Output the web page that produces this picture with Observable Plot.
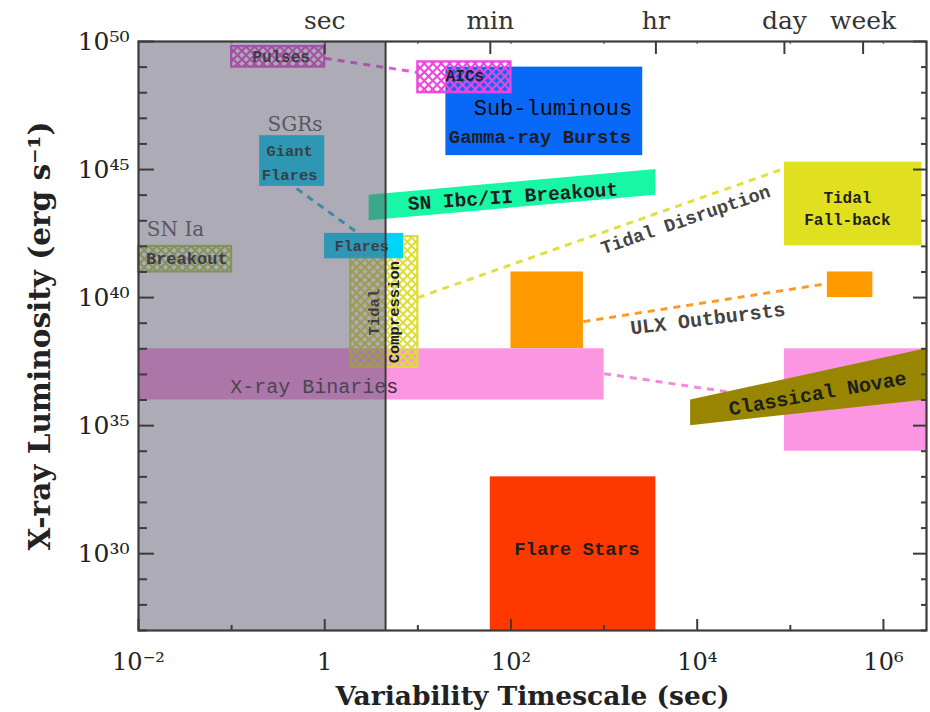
<!DOCTYPE html>
<html>
<head>
<meta charset="utf-8">
<script src="https://cdn.jsdelivr.net/npm/d3@7"></script>
<script src="https://cdn.jsdelivr.net/npm/@observablehq/plot@0.6"></script>
<style>
  html, body { margin: 0; padding: 0; background: #ffffff; }
  #chart { width: 930px; height: 712px; }
</style>
</head>
<body>
<div id="chart"></div>
<script>
// ---------------- data ----------------
const xDomain = [0.01, 2.9e6];      // variability timescale (s)
const yDomain = [1e27, 1e50];       // X-ray luminosity (erg/s)

// rectangular source classes
const rectNames = ["Pulses", "AICs", "Sub-luminous GRBs", "SGR Giant Flares", "SGR Flares",
  "SN Ia Breakout", "Tidal Compression", "Tidal Fall-back", "ULX short", "ULX long",
  "X-ray Binaries short", "X-ray Binaries long", "Flare Stars"];
const rectX1 = [0.1, 10, 20, 0.2, 1, 0.01, 1.9, 86400, 100, 2.5e5, 0.01, 86400, 60];
const rectX2 = [1, 100, 2600, 1, 7, 0.1, 10, 2.6e6, 600, 7.7e5, 1000, 2.9e6, 3600];
const rectY1 = [1e49, 1e48, 3.5e45, 2.2e44, 3.3e41, 1e41, 1.9e37, 1.05e42, 1e38, 1e40, 1e36, 1e34, 1e27];
const rectY2 = [6.3e49, 1.6e49, 1e49, 2.1e46, 3.2e42, 1e42, 2.4e42, 1.95e45, 1e41, 1e41, 1e38, 1e38, 1e33];

// slanted source classes (bands)
const ibcX = [3, 3600];
const ibcLow = [1e43, 1e44];
const ibcHigh = [1e44, 1e45];
const novaeX = [8500, 2.9e6];
const novaeLow = [1e35, 1e36];
const novaeHigh = [1e36, 1e38];

// dashed connectors
const connNames = ["Pulses-AICs", "SGRs", "Tidal Disruption", "ULX Outbursts", "X-ray Binaries"];
const connX1 = [1, 0.5, 10, 600, 1000];
const connY1 = [2.2e49, 1.8e44, 1e40, 1.15e39, 1.07e37];
const connX2 = [10, 2.3, 86400, 2.5e5, 2.1e4];
const connY2 = [6.2e48, 3.2e42, 1.1e45, 3.5e40, 2.1e36];

// shaded (sub-second) region
const shadeX1 = [0.01];
const shadeX2 = [4.5];

// labels
const labelText = ["Pulses", "AICs", "Sub-luminous", "Gamma-ray Bursts", "SGRs", "Giant\nFlares",
  "Flares", "SN Ia", "Breakout", "Tidal\nCompression", "SN Ibc/II Breakout", "Tidal Disruption",
  "Tidal\nFall-back", "ULX Outbursts", "X-ray Binaries", "Classical Novae", "Flare Stars"];
const labelX = [0.34, 32, 282, 205, 0.48, 0.42, 2.5, 0.025, 0.033, 4.2, 105, 7500, 4.1e5, 1.3e4, 0.77, 1.96e5, 510];
const labelY = [2.6e49, 4.5e48, 2.6e47, 1.8e46, 5.8e46, 2.2e45, 1e42, 4.6e42, 3.3e41, 2.7e39, 8.9e43, 1.1e43, 3.5e43, 1.5e39, 3.3e36, 1.8e36, 1.6e30];

// ticks
const xTickValues = [1e-2, 1, 1e2, 1e4, 1e6];
const xTickLabels = ["10⁻²", "1", "10²", "10⁴", "10⁶"];
const xMinorValues = [1e-1, 10, 1e3, 1e5];
const topTickValues = [1, 60, 3600, 86400, 604800];
const topTickLabels = ["sec", "min", "hr", "day", "week"];
const yTickValues = [1e30, 1e35, 1e40, 1e45, 1e50];
const yTickLabels = ["10³⁰", "10³⁵", "10⁴⁰", "10⁴⁵", "10⁵⁰"];
const yMinorValues = [1e27, 1e28, 1e29, 1e31, 1e32, 1e33, 1e34, 1e36, 1e37, 1e38, 1e39,
  1e41, 1e42, 1e43, 1e44, 1e46, 1e47, 1e48, 1e49];

const xTitle = "Variability Timescale (sec)";
const yTitle = "X-ray Luminosity (erg s⁻¹)";

// ---------------- tables ----------------
const rects = rectNames.map((name, i) => ({name, x1: rectX1[i], x2: rectX2[i], y1: rectY1[i], y2: rectY2[i]}));
const ibc = ibcX.map((x, i) => ({x, lo: ibcLow[i], hi: ibcHigh[i]}));
const novae = novaeX.map((x, i) => ({x, lo: novaeLow[i], hi: novaeHigh[i]}));
const conns = connNames.map((name, i) => ({name, x1: connX1[i], y1: connY1[i], x2: connX2[i], y2: connY2[i]}));
const shade = shadeX1.map((x1, i) => ({x1, x2: shadeX2[i]}));
const labels = labelText.map((text, i) => ({text, x: labelX[i], y: labelY[i]}));
const xLab = new Map(xTickValues.map((v, i) => [v, xTickLabels[i]]));
const topLab = new Map(topTickValues.map((v, i) => [v, topTickLabels[i]]));
const yLab = new Map(yTickValues.map((v, i) => [v, yTickLabels[i]]));

// ---------------- layout & styles ----------------
const W = 930, H = 712, MT = 41, MR = 4, MB = 82, ML = 138;
const FW = W - ML - MR, FH = H - MT - MB;   // frame size in px

const solidFill = {
  "Sub-luminous GRBs": "#0868f8",
  "SGR Giant Flares": "#00d4f8",
  "SGR Flares": "#00d4f8",
  "Tidal Fall-back": "#e0e020",
  "ULX short": "#ff9900",
  "ULX long": "#ff9900",
  "X-ray Binaries short": "#fc95e2",
  "X-ray Binaries long": "#fc95e2",
  "Flare Stars": "#ff3800"
};
const hatch = {
  "Pulses": ["url(#hatchPink)", "#ee44dd"],
  "AICs": ["url(#hatchPink)", "#ee44dd"],
  "SN Ia Breakout": ["url(#hatchLime)", "#aacc44"],
  "Tidal Compression": ["url(#hatchYellow)", "#dddd33"]
};
const connColor = {
  "Pulses-AICs": "#ee55dd",
  "SGRs": "#22b8e8",
  "Tidal Disruption": "#e0e040",
  "ULX Outbursts": "#ff9922",
  "X-ray Binaries": "#f888dd"
};
const MONO = "'Liberation Mono', 'DejaVu Sans Mono', monospace";
const SERIF = "'DejaVu Serif', serif";
const labelStyle = {
  "Pulses": {fontFamily: MONO, fontSize: 16, fontWeight: "bold"},
  "AICs": {fontFamily: MONO, fontSize: 16, fontWeight: "bold"},
  "Sub-luminous": {fontFamily: MONO, fontSize: 22, fontWeight: "normal", fill: "#0a0a0a"},
  "Gamma-ray Bursts": {fontFamily: MONO, fontSize: 19, fontWeight: "bold"},
  "SGRs": {fontFamily: SERIF, fontSize: 20, fontWeight: "normal", fill: "#555"},
  "Giant\nFlares": {fontFamily: MONO, fontSize: 15.5, fontWeight: "bold", lineHeight: 1.55},
  "Flares": {fontFamily: MONO, fontSize: 15, fontWeight: "bold"},
  "SN Ia": {fontFamily: SERIF, fontSize: 20, fontWeight: "normal", fill: "#555"},
  "Breakout": {fontFamily: MONO, fontSize: 17, fontWeight: "bold"},
  "Tidal\nCompression": {fontFamily: MONO, fontSize: 15.5, fontWeight: "bold", rotate: -90, lineHeight: 1.25},
  "SN Ibc/II Breakout": {fontFamily: MONO, fontSize: 19.5, fontWeight: "bold", rotate: -4},
  "Tidal Disruption": {fontFamily: MONO, fontSize: 18.5, fontWeight: "bold", rotate: -19, fill: "#444"},
  "Tidal\nFall-back": {fontFamily: MONO, fontSize: 16, fontWeight: "bold", lineHeight: 1.4},
  "ULX Outbursts": {fontFamily: MONO, fontSize: 20, fontWeight: "bold", rotate: -7, fill: "#444"},
  "X-ray Binaries": {fontFamily: MONO, fontSize: 20, fontWeight: "normal", fill: "#333"},
  "Classical Novae": {fontFamily: MONO, fontSize: 20, fontWeight: "bold", rotate: -10},
  "Flare Stars": {fontFamily: MONO, fontSize: 19, fontWeight: "bold"}
};

const AX = "#3c3c3c";

// ---------------- marks ----------------
const marks = [];
// solid boxes
for (const r of rects) {
  if (solidFill[r.name]) {
    marks.push(Plot.rect([r], {x1: "x1", x2: "x2", y1: "y1", y2: "y2", fill: solidFill[r.name]}));
  }
}
// dashed connectors
for (const c of conns) {
  marks.push(Plot.link([c], {x1: "x1", y1: "y1", x2: "x2", y2: "y2",
    stroke: connColor[c.name], strokeWidth: 3, strokeDasharray: "7,6"}));
}
// slanted bands
marks.push(Plot.areaY(ibc, {x: "x", y1: "lo", y2: "hi", fill: "#18f7a5"}));
marks.push(Plot.areaY(novae, {x: "x", y1: "lo", y2: "hi", fill: "#988600"}));
// hatched boxes
for (const r of rects) {
  if (hatch[r.name]) {
    marks.push(Plot.rect([r], {x1: "x1", x2: "x2", y1: "y1", y2: "y2",
      fill: hatch[r.name][0], stroke: hatch[r.name][1], strokeWidth: 2.2}));
  }
}
// Flares box sits on top of tidal compression
marks.push(Plot.rect(rects.filter(r => r.name === "SGR Flares"), {x1: "x1", x2: "x2", y1: "y1", y2: "y2", fill: "#00d4f8"}));
// labels
for (const l of labels) {
  const s = labelStyle[l.text];
  marks.push(Plot.text([l], {x: "x", y: "y", text: "text", fill: s.fill || "#1e1e1e",
    fontFamily: s.fontFamily, fontSize: s.fontSize, fontWeight: s.fontWeight,
    rotate: s.rotate || 0, lineHeight: s.lineHeight || 1, lineAnchor: "middle", textAnchor: "middle"}));
}
// shaded sub-second region + its boundary
marks.push(Plot.rect(shade, {x1: "x1", x2: "x2", fill: "#5b596d", fillOpacity: 0.5}));
marks.push(Plot.ruleX(shadeX2, {stroke: AX, strokeWidth: 2}));

// inward tick marks (rules inset to a few pixels at the frame edge)
const tick = {stroke: AX, strokeWidth: 2};
marks.push(Plot.ruleX(xTickValues, {x: d => d, insetTop: FH - 11, ...tick}));
marks.push(Plot.ruleX(xMinorValues, {x: d => d, insetTop: FH - 5, ...tick}));
marks.push(Plot.ruleX(topTickValues, {x: d => d, insetBottom: FH - 13, ...tick}));
marks.push(Plot.ruleX(xTickValues.concat(xMinorValues), {x: d => d, insetBottom: FH - 3, stroke: "#777", strokeWidth: 1.5}));
marks.push(Plot.ruleY(yTickValues, {y: d => d, insetRight: FW - 16, ...tick}));
marks.push(Plot.ruleY(yMinorValues, {y: d => d, insetRight: FW - 9, ...tick}));
marks.push(Plot.ruleY(yTickValues, {y: d => d, insetLeft: FW - 13, ...tick}));
marks.push(Plot.ruleY(yMinorValues, {y: d => d, insetLeft: FW - 5, ...tick}));

// tick labels
marks.push(Plot.text(xTickValues, {x: d => d, text: d => xLab.get(d), frameAnchor: "bottom", dy: 32,
  lineAnchor: "middle", fontSize: 24, fontFamily: SERIF, fill: "#222"}));
marks.push(Plot.text(topTickValues, {x: d => d, text: d => topLab.get(d), frameAnchor: "top", dy: -21,
  lineAnchor: "middle", fontSize: 25, fontFamily: SERIF, fill: "#333"}));
marks.push(Plot.text(yTickValues, {y: d => d, text: d => yLab.get(d), frameAnchor: "left", dx: -9,
  textAnchor: "end", lineAnchor: "middle", fontSize: 25, fontFamily: SERIF, fill: "#222"}));

// axis titles
marks.push(Plot.text([xTitle], {text: d => d, frameAnchor: "bottom", dy: 66, lineAnchor: "middle",
  textAnchor: "middle", fontSize: 26.5, fontWeight: "bold", fontFamily: SERIF, fill: "#222"}));
marks.push(Plot.text([yTitle], {text: d => d, frameAnchor: "left", dx: -98, rotate: -90, lineAnchor: "middle",
  textAnchor: "middle", fontSize: 29.5, fontWeight: "bold", fontFamily: SERIF, fill: "#222"}));
// frame
marks.push(Plot.frame({stroke: AX, strokeWidth: 2.2}));

const svg = Plot.plot({
  width: W,
  height: H,
  marginTop: MT,
  marginRight: MR,
  marginBottom: MB,
  marginLeft: ML,
  style: {fontFamily: SERIF, color: "#222", background: "#ffffff", overflow: "visible"},
  x: {type: "log", domain: xDomain, axis: null},
  y: {type: "log", domain: yDomain, axis: null},
  marks
});

// hatch patterns
const ns = "http://www.w3.org/2000/svg";
const defs = document.createElementNS(ns, "defs");
const pat = (id, color) => `<pattern id="${id}" patternUnits="userSpaceOnUse" width="6" height="6" patternTransform="rotate(45)">
  <path d="M0 3H6M3 0V6" stroke="${color}" stroke-width="2.2" fill="none"/></pattern>`;
defs.innerHTML = pat("hatchPink", "#ee44dd") + pat("hatchYellow", "#dddd33") + pat("hatchLime", "#aacc44");
svg.insertBefore(defs, svg.firstChild);

document.getElementById("chart").appendChild(svg);
</script>
</body>
</html>
